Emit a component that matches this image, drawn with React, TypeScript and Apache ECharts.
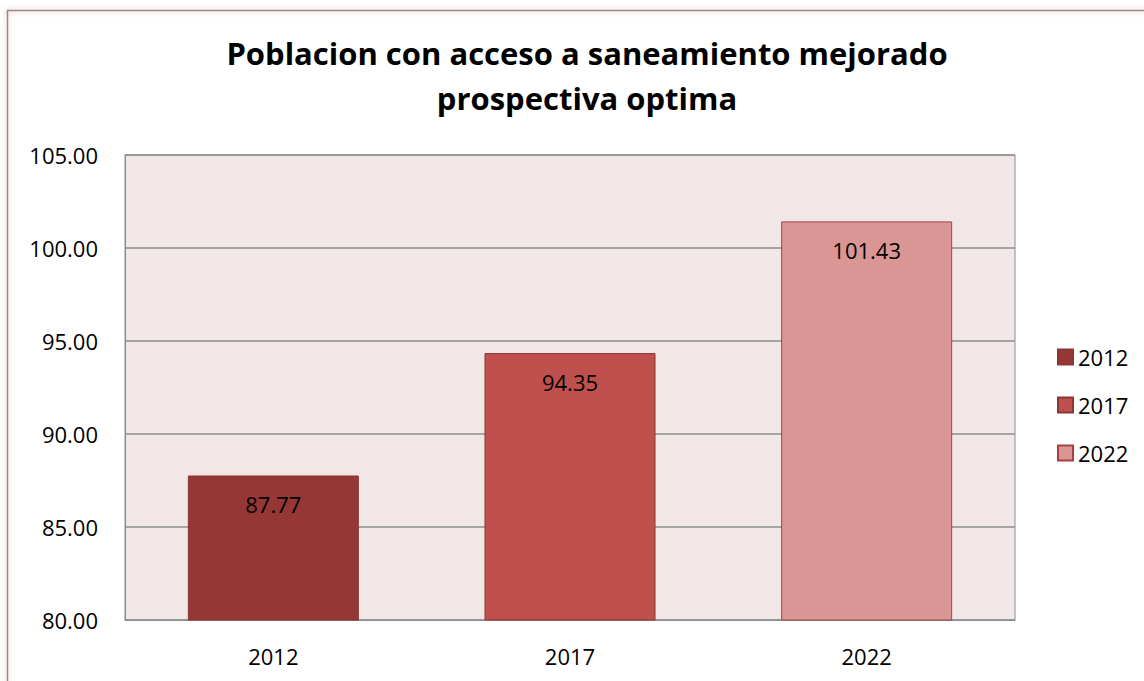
import React, { useEffect, useRef } from "react";
import * as echarts from "echarts";

const titleLines = ["Poblacion con acceso a saneamiento mejorado", "prospectiva optima"];
const categories = ["2012", "2017", "2022"];
const values = [87.77, 94.35, 101.43];
const seriesNames = ["2012", "2017", "2022"];
const colors = ["#953735", "#C0504D", "#D99694"];
const borderColors = ["#8E3532", "#8C3634", "#A8403E"];

export default function App() {
  const ref = useRef<HTMLDivElement>(null);
  useEffect(() => {
    const chart = echarts.init(ref.current!, null, { renderer: "svg" });
    const font = "Open Sans";
    chart.setOption({
      animation: false,
      backgroundColor: "#ffffff",
      textStyle: { fontFamily: font },
      graphic: [
        {
          type: "rect",
          shape: { x: 7.5, y: 10.5, width: 1200, height: 700 },
          style: { fill: "none", stroke: "#8c8c8c", lineWidth: 1.5, shadowBlur: 6, shadowColor: "rgba(220,120,120,0.6)" },
          z: 10,
        },
      ],
      title: {
        text: titleLines.join("\n"),
        left: 582,
        textAlign: "center",
        top: 25,
        textStyle: { fontSize: 31, fontWeight: "bold", color: "#000", fontFamily: font, lineHeight: 45 },
      },
      legend: {
        orient: "vertical",
        left: 1052,
        top: 341,
        icon: "rect",
        itemWidth: 15,
        itemHeight: 15,
        itemGap: 26,
        textStyle: { fontSize: 22, color: "#000", fontFamily: font },
        data: seriesNames,
      },
      grid: { left: 125, top: 155, width: 890, height: 465, show: true, backgroundColor: "#F2E7E7", borderColor: "#8c8c8c", borderWidth: 1 },
      xAxis: {
        type: "category",
        data: categories,
        axisLine: { show: true, lineStyle: { color: "#8c8c8c" } },
        axisTick: { show: false },
        axisLabel: { fontSize: 22, color: "#000", margin: 25, fontFamily: font },
      },
      yAxis: {
        type: "value",
        min: 80,
        max: 105,
        interval: 5,
        axisLine: { show: true, lineStyle: { color: "#8c8c8c" } },
        axisTick: { show: false },
        splitLine: { lineStyle: { color: "#8c8c8c", width: 1.5 } },
        axisLabel: { fontSize: 22, color: "#000", margin: 27, fontFamily: font, formatter: (v: number) => v.toFixed(2) },
      },
      series: seriesNames.map((name, i) => ({
        name,
        type: "bar",
        stack: "all",
        barWidth: 171,
        data: categories.map((_, j) => (j === i ? values[j] : null)),
        itemStyle: { color: colors[i], borderColor: borderColors[i], borderWidth: 1 },
        label: {
          show: true,
          position: "insideTop",
          distance: 18,
          fontSize: 22,
          color: "#000",
          fontFamily: font,
          formatter: (p: any) => (p.value == null ? "" : Number(p.value).toFixed(2)),
        },
      })),
    });
    return () => chart.dispose();
  }, []);
  return <div ref={ref} style={{ position: "fixed", left: 0, top: 0, width: 1144, height: 681 }} />;
}
